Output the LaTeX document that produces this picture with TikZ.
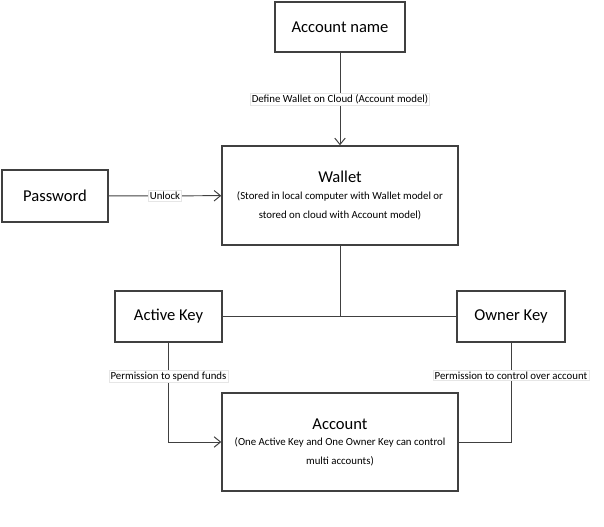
\documentclass[tikz,border=0pt]{standalone}
\usepackage{fontspec}
\setmainfont{Carlito}
\usetikzlibrary{arrows.meta,positioning,calc}
\definecolor{lineGray}{RGB}{64,64,64}
\definecolor{labelEdge}{RGB}{230,230,230}
\newcommand{\notefont}{\fontsize{7.7}{12}\selectfont}

\begin{document}
\begin{tikzpicture}[
        box/.style={draw=lineGray,line width=1pt,align=center,font=\fontsize{11.8}{13}\selectfont,minimum width=2.7cm,minimum height=1.275cm},
        bigbox/.style={box,minimum width=5.9cm,minimum height=2.45cm},
        lbl/.style={fill=white,draw=labelEdge,line width=0.3pt,inner sep=1pt,font=\fontsize{7.7}{9}\selectfont},
        link/.style={draw=lineGray,line width=0.7pt},
        arrow/.style={link,-{Straight Barb[length=1.6mm,width=2.6mm]}}
      ]
        \useasboundingbox (0,0) rectangle (15.1,13.15);
        \node[box,minimum width=3.25cm,minimum height=1.25cm] (name) at (8.5,12.475) {Account name};
        \node[bigbox,minimum height=2.475cm] (wallet) at (8.5,8.2625) {Wallet\\[-1pt]\notefont (Stored in local computer with Wallet model or\\\notefont stored on cloud with Account model)};
        \node[box,minimum width=2.65cm,minimum height=1.3cm] (pwd) at (1.375,8.25) {Password};
        \node[box,minimum width=2.675cm] (active) at (4.2125,5.2375) {Active Key};
        \node[box] (owner) at (12.775,5.2375) {Owner Key};
        \node[bigbox] (account) at (8.5,2.1) {Account\\[-1pt]\notefont (One Active Key and One Owner Key can control\\\notefont multi accounts)};
        \draw[arrow] (name) -- node[lbl] {Define Wallet on Cloud (Account model)} (wallet);
        \draw[arrow] (pwd) -- node[lbl] {Unlock} (wallet);
        \draw[link] (wallet) -- (wallet |- active);
        \draw[link] (active) -- (owner);
        \draw[arrow] (active) |- node[lbl,pos=0.17] {Permission to spend funds} (account);
        \draw[link] (owner) |- node[lbl,pos=0.165] {Permission to control over account} (account);
      \end{tikzpicture}
\end{document}
